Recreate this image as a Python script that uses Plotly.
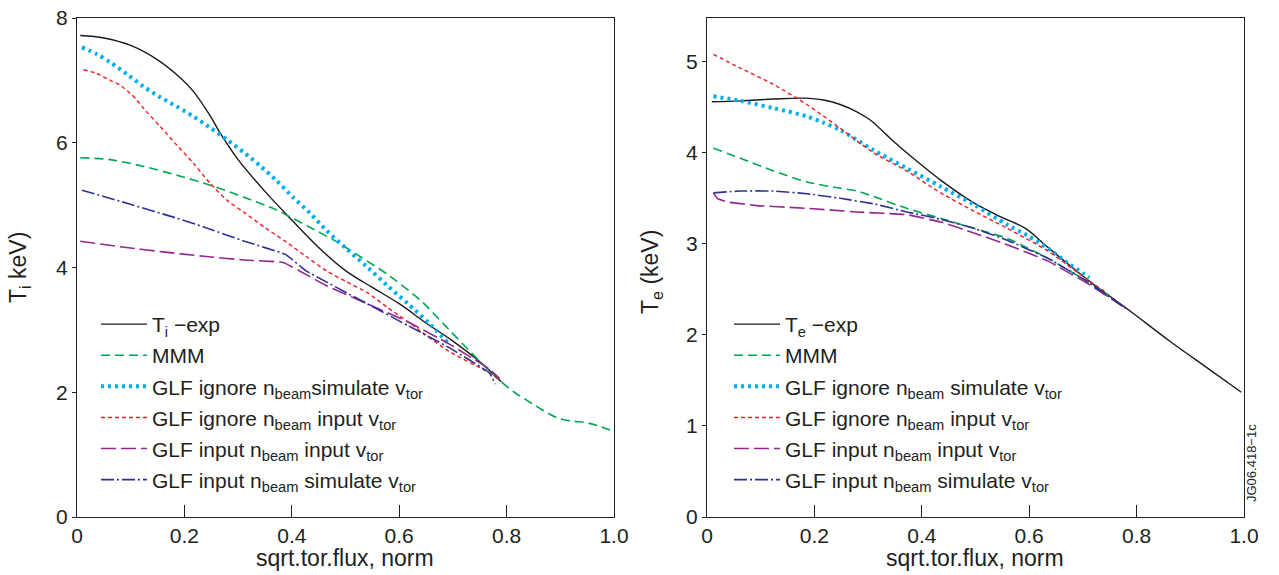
import plotly.graph_objects as go

W, H = 1279, 575

# ---------------- data: Ti (left panel) ----------------
ti_exp_x = [0.006, 0.05, 0.10, 0.15, 0.186, 0.217, 0.248, 0.267, 0.30, 0.35, 0.40, 0.45, 0.50, 0.55, 0.60, 0.65, 0.70, 0.75, 0.79]
ti_exp_y = [7.72, 7.68, 7.56, 7.33, 7.09, 6.82, 6.43, 6.15, 5.73, 5.22, 4.76, 4.32, 3.95, 3.68, 3.42, 3.11, 2.82, 2.49, 2.17]

ti_mmm_x = [0.006, 0.062, 0.124, 0.186, 0.248, 0.31, 0.372, 0.43, 0.48, 0.53, 0.578, 0.639, 0.692, 0.745, 0.787, 0.814, 0.838, 0.866, 0.894, 0.92, 0.95, 0.975, 1.0]
ti_mmm_y = [5.76, 5.73, 5.62, 5.48, 5.32, 5.13, 4.92, 4.66, 4.43, 4.16, 3.89, 3.48, 3.01, 2.54, 2.19, 2.00, 1.87, 1.72, 1.59, 1.54, 1.51, 1.45, 1.37]

ti_gis_x = [0.009, 0.037, 0.062, 0.093, 0.124, 0.155, 0.186, 0.217, 0.248, 0.279, 0.31, 0.341, 0.372, 0.403, 0.434, 0.464, 0.502, 0.54, 0.578, 0.616, 0.654, 0.69]
ti_gis_y = [7.53, 7.42, 7.29, 7.10, 6.90, 6.73, 6.58, 6.42, 6.24, 6.05, 5.85, 5.63, 5.39, 5.12, 4.87, 4.60, 4.30, 4.01, 3.71, 3.42, 3.12, 2.80]

ti_gii_x = [0.012, 0.037, 0.062, 0.081, 0.099, 0.112, 0.124, 0.155, 0.186, 0.217, 0.248, 0.279, 0.31, 0.35, 0.388, 0.426, 0.464, 0.502, 0.54, 0.578, 0.616, 0.692, 0.768, 0.787]
ti_gii_y = [7.17, 7.11, 7.00, 6.92, 6.79, 6.68, 6.55, 6.26, 5.96, 5.67, 5.35, 5.08, 4.89, 4.64, 4.42, 4.18, 3.95, 3.77, 3.60, 3.36, 3.13, 2.66, 2.31, 2.19]

ti_gni_x = [0.006, 0.084, 0.16, 0.236, 0.312, 0.384, 0.426, 0.464, 0.54, 0.616, 0.692, 0.768, 0.787]
ti_gni_y = [4.42, 4.33, 4.25, 4.18, 4.12, 4.08, 3.89, 3.71, 3.42, 3.13, 2.78, 2.37, 2.22]

ti_gns_x = [0.009, 0.093, 0.186, 0.236, 0.312, 0.388, 0.426, 0.464, 0.54, 0.616, 0.692, 0.768, 0.779]
ti_gns_y = [5.24, 5.03, 4.79, 4.65, 4.42, 4.21, 3.95, 3.77, 3.42, 3.07, 2.72, 2.31, 2.13]

# ---------------- data: Te (right panel) ----------------
te_exp_x = [0.009, 0.062, 0.124, 0.18, 0.217, 0.248, 0.279, 0.304, 0.341, 0.372, 0.435, 0.497, 0.546, 0.593, 0.635, 0.71, 0.786, 0.862, 0.938, 0.995]
te_exp_y = [4.56, 4.57, 4.59, 4.60, 4.58, 4.53, 4.45, 4.36, 4.16, 4.00, 3.70, 3.45, 3.30, 3.17, 2.96, 2.60, 2.27, 1.93, 1.61, 1.37]

te_mmm_x = [0.012, 0.062, 0.124, 0.186, 0.248, 0.279, 0.31, 0.372, 0.435, 0.497, 0.559, 0.635, 0.71, 0.75]
te_mmm_y = [4.05, 3.94, 3.80, 3.68, 3.61, 3.58, 3.52, 3.39, 3.28, 3.17, 3.06, 2.84, 2.58, 2.43]

te_gis_x = [0.012, 0.062, 0.124, 0.186, 0.217, 0.248, 0.31, 0.372, 0.435, 0.497, 0.559, 0.597, 0.635, 0.672, 0.712]
te_gis_y = [4.62, 4.57, 4.49, 4.40, 4.33, 4.25, 4.03, 3.83, 3.63, 3.43, 3.21, 3.09, 2.95, 2.79, 2.63]

te_gii_x = [0.012, 0.062, 0.124, 0.186, 0.248, 0.31, 0.372, 0.435, 0.497, 0.559, 0.635, 0.71, 0.74]
te_gii_y = [5.08, 4.93, 4.75, 4.53, 4.27, 4.00, 3.80, 3.56, 3.36, 3.17, 2.92, 2.60, 2.48]

te_gni_x = [0.012, 0.019, 0.037, 0.093, 0.186, 0.279, 0.372, 0.435, 0.497, 0.559, 0.635, 0.71, 0.786]
te_gni_y = [3.56, 3.50, 3.46, 3.42, 3.39, 3.35, 3.32, 3.24, 3.12, 2.99, 2.81, 2.56, 2.27]

te_gns_x = [0.012, 0.062, 0.124, 0.186, 0.248, 0.31, 0.372, 0.435, 0.497, 0.559, 0.635, 0.71, 0.779]
te_gns_y = [3.56, 3.58, 3.58, 3.55, 3.50, 3.44, 3.35, 3.27, 3.17, 3.04, 2.84, 2.58, 2.29]

# ---------------- labels ----------------
left_names = [
    "T<sub>i</sub> \u2212exp",
    "MMM",
    "GLF ignore n<sub>beam</sub>simulate v<sub>tor</sub>",
    "GLF ignore n<sub>beam</sub> input v<sub>tor</sub>",
    "GLF input n<sub>beam</sub> input v<sub>tor</sub>",
    "GLF input n<sub>beam</sub> simulate v<sub>tor</sub>",
]
right_names = [
    "T<sub>e</sub> \u2212exp",
    "MMM",
    "GLF ignore n<sub>beam</sub> simulate v<sub>tor</sub>",
    "GLF ignore n<sub>beam</sub> input v<sub>tor</sub>",
    "GLF input n<sub>beam</sub> input v<sub>tor</sub>",
    "GLF input n<sub>beam</sub> simulate v<sub>tor</sub>",
]
x_tickvals = [0, 0.2, 0.4, 0.6, 0.8, 1.0]
x_ticktext = ["0", "0.2", "0.4", "0.6", "0.8", "1.0"]
ti_ticks = [0, 2, 4, 6, 8]
te_ticks = [0, 1, 2, 3, 4, 5]
x_title = "sqrt.tor.flux, norm"
ti_title = "T<sub>i</sub> keV)"
te_title = "T<sub>e</sub> (keV)"
tag = "JG06.418\u22121c"

FONT = "Liberation Sans, Arial, Helvetica, sans-serif"
TXT = "#231f20"

styles = [
    dict(color="#1a1a1a", width=1.4, dash="solid", shape="spline", smoothing=1.0),
    dict(color="#00a651", width=1.6, dash="9px,5px", shape="spline", smoothing=0.7),
    dict(color="#00aeef", width=4, dash="3px,4px", shape="spline", smoothing=0.8),
    dict(color="#ed1c24", width=1.4, dash="4px,3px", shape="spline", smoothing=0.7),
    dict(color="#92278f", width=1.6, dash="15px,5px", shape="spline", smoothing=0.3),
    dict(color="#2e3192", width=1.6, dash="13px,3px,2px,3px", shape="spline", smoothing=0.3),
]

left_data = [(ti_exp_x, ti_exp_y), (ti_mmm_x, ti_mmm_y), (ti_gis_x, ti_gis_y),
             (ti_gii_x, ti_gii_y), (ti_gni_x, ti_gni_y), (ti_gns_x, ti_gns_y)]
right_data = [(te_exp_x, te_exp_y), (te_mmm_x, te_mmm_y), (te_gis_x, te_gis_y),
              (te_gii_x, te_gii_y), (te_gni_x, te_gni_y), (te_gns_x, te_gns_y)]

fig = go.Figure()
for i in range(6):
    x, y = left_data[i]
    fig.add_trace(go.Scatter(x=x, y=y, mode="lines", name=left_names[i], line=styles[i],
                             xaxis="x", yaxis="y", legend="legend", legendrank=i + 1,
                             legendgroup="L%d" % i))
for i in range(6):
    x, y = right_data[i]
    fig.add_trace(go.Scatter(x=x, y=y, mode="lines", name=right_names[i], line=styles[i],
                             xaxis="x2", yaxis="y2", legend="legend2", legendrank=i + 1,
                             legendgroup="R%d" % i))

def px_x(p):
    return p / W

def px_y(p):
    return 1 - p / H

ydom = [px_y(517), px_y(18)]
axis_common = dict(showline=True, linecolor="#231f20", linewidth=1.3, mirror=True,
                   showgrid=False, zeroline=False, automargin=False,
                   tickfont=dict(family=FONT, size=21, color=TXT))

leg_font = dict(family=FONT, size=21, color=TXT)
fig.update_layout(
    width=W, height=H,
    margin=dict(l=0, r=0, t=0, b=0, pad=0, autoexpand=False),
    paper_bgcolor="white", plot_bgcolor="white",
    font=dict(family=FONT, color=TXT),
    xaxis=dict(domain=[px_x(77), px_x(614)], range=[0, 1], anchor="y",
               tickvals=x_tickvals, ticktext=x_ticktext, ticks="inside", ticklen=12,
               tickcolor="#231f20", ticklabelstandoff=0, **axis_common),
    yaxis=dict(domain=ydom, range=[0, 8], anchor="x", tickvals=ti_ticks,
               ticks="outside", ticklen=4, tickcolor="#231f20", ticklabelstandoff=0, **axis_common),
    xaxis2=dict(domain=[px_x(707), px_x(1244)], range=[0, 1], anchor="y2",
                tickvals=x_tickvals, ticktext=x_ticktext, ticks="inside", ticklen=12,
                tickcolor="#231f20", ticklabelstandoff=0, **axis_common),
    yaxis2=dict(domain=ydom, range=[0, 5.48], anchor="x2", tickvals=te_ticks,
                ticks="outside", ticklen=4, tickcolor="#231f20", ticklabelstandoff=0, **axis_common),
    legend=dict(x=px_x(96), y=px_y(304), xanchor="left", yanchor="top",
                bgcolor="rgba(0,0,0,0)", itemwidth=46, tracegroupgap=0.8, font=leg_font),
    legend2=dict(x=px_x(729), y=px_y(304), xanchor="left", yanchor="top",
                 bgcolor="rgba(0,0,0,0)", itemwidth=46, tracegroupgap=0.8, font=leg_font),
    showlegend=True,
)

ann_font = dict(family=FONT, size=23, color=TXT)
fig.add_annotation(text=x_title, x=px_x(345), y=px_y(558), xref="paper", yref="paper",
                   showarrow=False, font=ann_font, xanchor="center", yanchor="middle")
fig.add_annotation(text=x_title, x=px_x(975), y=px_y(558), xref="paper", yref="paper",
                   showarrow=False, font=ann_font, xanchor="center", yanchor="middle")
fig.add_annotation(text=ti_title, x=px_x(19), y=px_y(268), xref="paper", yref="paper",
                   showarrow=False, font=ann_font, textangle=-90, xanchor="center", yanchor="middle")
fig.add_annotation(text=te_title, x=px_x(651), y=px_y(272), xref="paper", yref="paper",
                   showarrow=False, font=ann_font, textangle=-90, xanchor="center", yanchor="middle")
fig.add_annotation(text=tag, x=px_x(1252), y=px_y(463), xref="paper", yref="paper",
                   showarrow=False, font=dict(family=FONT, size=13, color=TXT), textangle=-90,
                   xanchor="center", yanchor="middle")

fig.write_html("out.html",
               post_script="document.body.style.margin='0';document.body.style.overflow='hidden';")
